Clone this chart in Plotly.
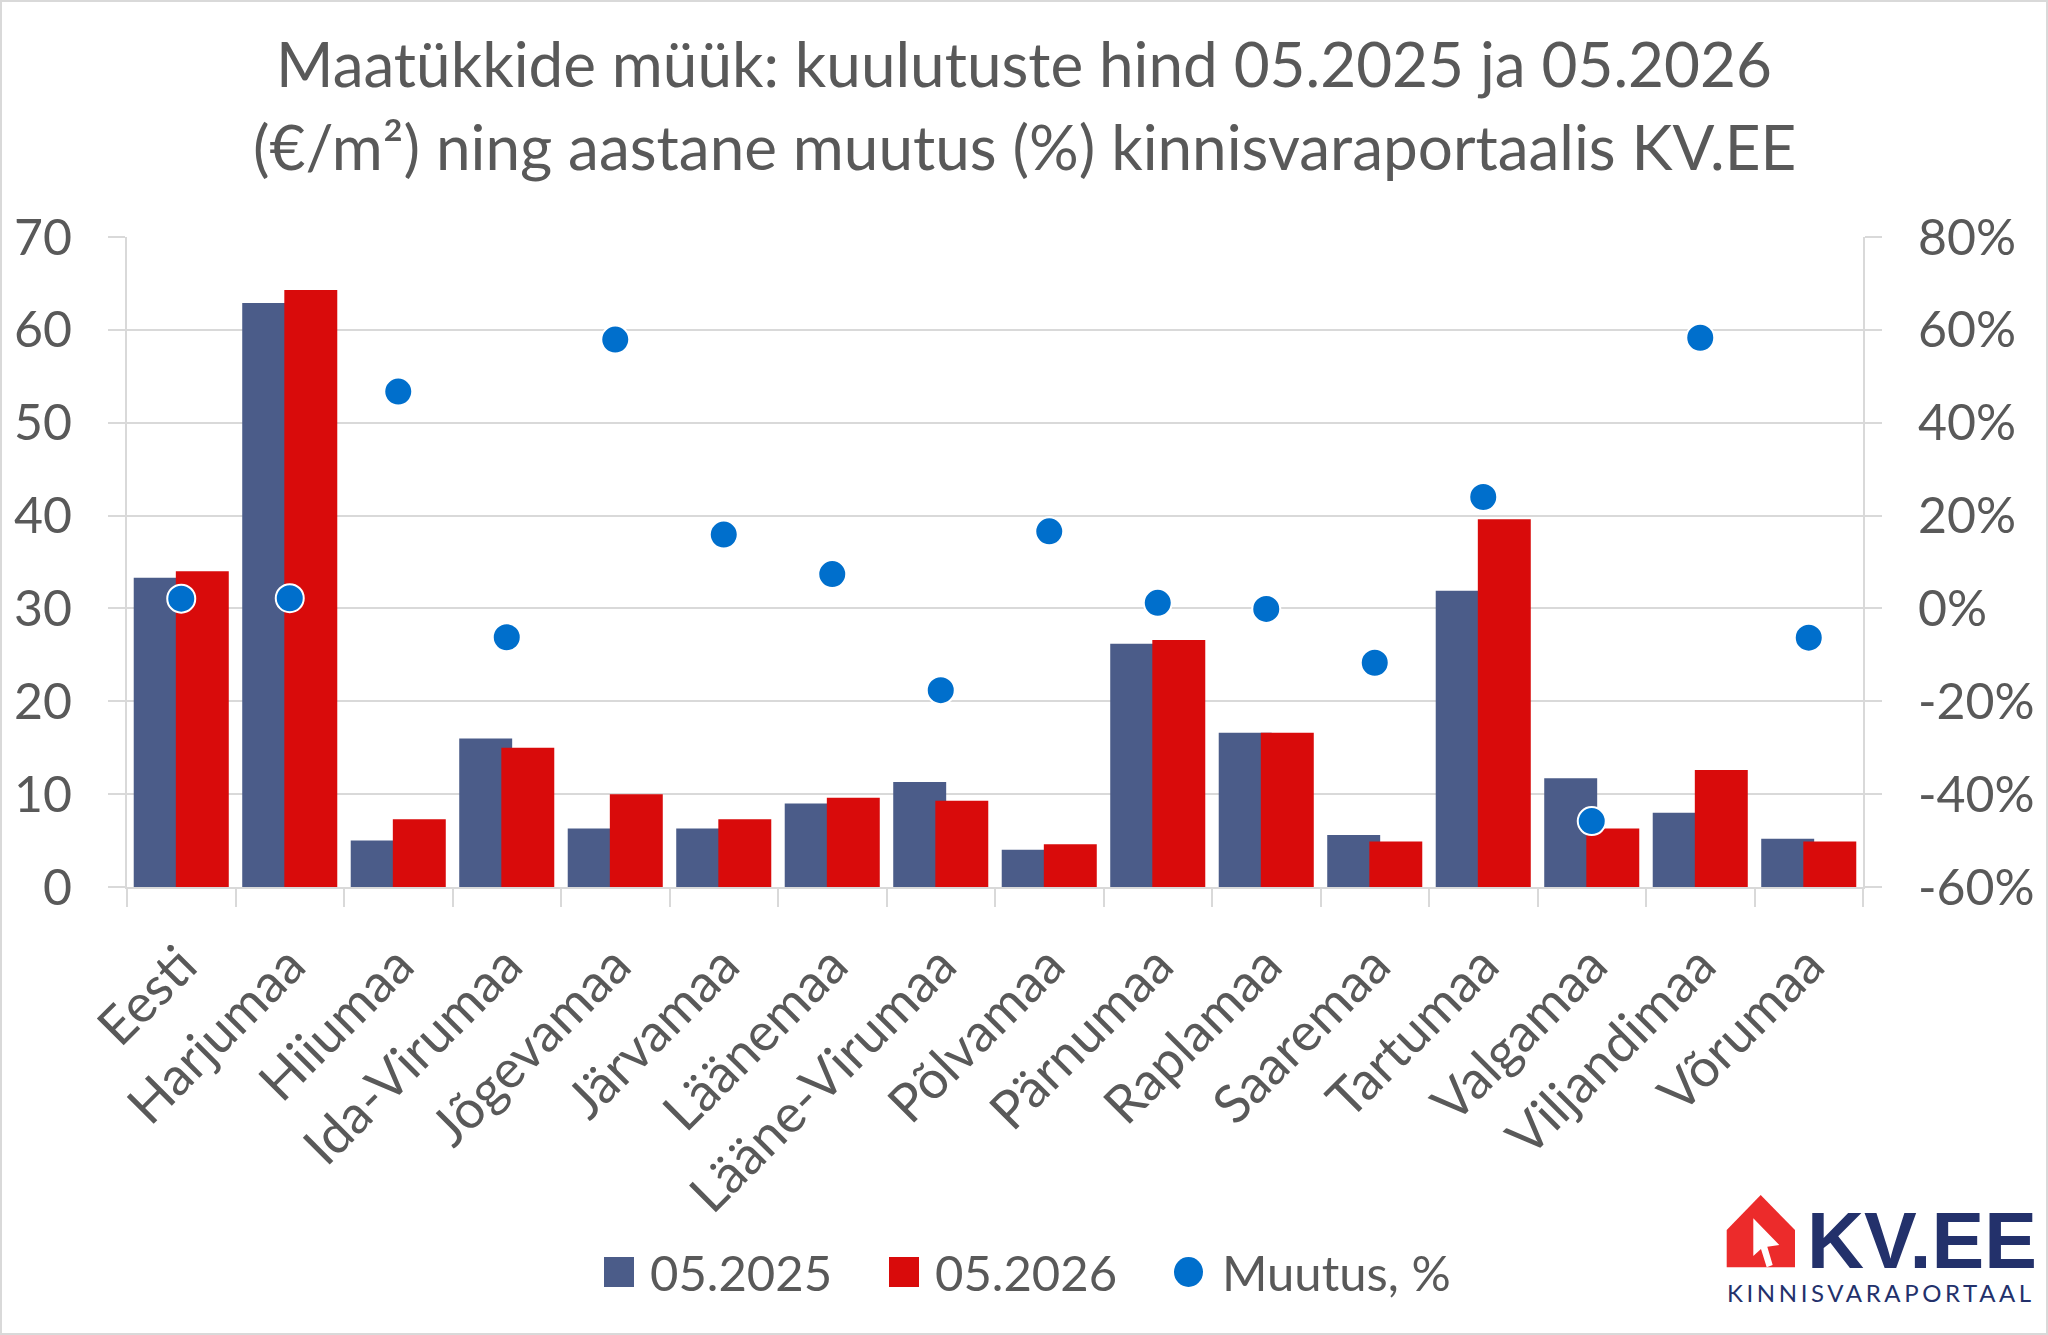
import plotly.graph_objects as go

# ---------------- data ----------------
categories = ["Eesti", "Harjumaa", "Hiiumaa", "Ida-Virumaa", "Jõgevamaa", "Järvamaa",
              "Läänemaa", "Lääne-Virumaa", "Põlvamaa", "Pärnumaa", "Raplamaa",
              "Saaremaa", "Tartumaa", "Valgamaa", "Viljandimaa", "Võrumaa"]
price_2025 = [33.3, 62.9, 5.0, 16.0, 6.3, 6.3, 9.0, 11.3, 4.0, 26.2, 16.6, 5.6, 31.9, 11.7, 8.0, 5.2]
price_2026 = [34.0, 64.3, 7.3, 15.0, 10.0, 7.3, 9.6, 9.3, 4.6, 26.6, 16.6, 4.9, 39.6, 6.3, 12.6, 4.9]
change_pct = [0.021, 0.022, 0.467, -0.062, 0.579, 0.159, 0.074, -0.176, 0.166, 0.012,
              -0.001, -0.117, 0.240, -0.458, 0.583, -0.063]
series_names = ["05.2025", "05.2026", "Muutus, %"]
y_left_ticks = [0, 10, 20, 30, 40, 50, 60, 70]
y_right_ticks = [-0.6, -0.4, -0.2, 0.0, 0.2, 0.4, 0.6, 0.8]
y_right_labels = ["-60%", "-40%", "-20%", "0%", "20%", "40%", "60%", "80%"]
title_lines = ["Maatükkide müük: kuulutuste hind 05.2025 ja 05.2026",
               "(€/m²) ning aastane muutus (%) kinnisvaraportaalis KV.EE"]

# ---------------- style ----------------
C_BLUE = "#4B5C89"
C_RED = "#D90B0B"
C_DOT = "#006FCC"
C_TEXT = "#595959"
C_GRID = "#D9D9D9"
C_NAVY = "#23316B"
C_LOGO_RED = "#EC2B2B"
FONT = "Lato"

W, H = 2048, 1335
L, R, T, B = 127, 1863, 237, 887


def fx(x):
    return (x - L) / (R - L)


def fy(y):
    return (B - y) / (B - T)


fig = go.Figure()
bar_w = 0.488
fig.add_trace(go.Bar(x=categories, y=price_2025, name=series_names[0], marker_color=C_BLUE,
                     marker_line_width=0, width=bar_w, offset=-0.438))
fig.add_trace(go.Bar(x=categories, y=price_2026, name=series_names[1], marker_color=C_RED,
                     marker_line_width=0, width=bar_w, offset=-0.050))
fig.add_trace(go.Scatter(x=categories, y=change_pct, name=series_names[2], mode="markers",
                         yaxis="y2", cliponaxis=False,
                         marker=dict(color=C_DOT, size=28, line=dict(color="white", width=2))))

shapes = []
annotations = []

# outer frame
shapes.append(dict(type="rect", xref="paper", yref="paper", x0=fx(1), x1=fx(W - 1),
                   y0=fy(H - 1), y1=fy(1), line=dict(color=C_GRID, width=2), layer="below"))

# title
for line, yc in zip(title_lines, [63, 146]):
    annotations.append(dict(text=line, xref="paper", yref="paper", x=fx(1024), y=fy(yc),
                            xanchor="center", yanchor="middle", showarrow=False,
                            font=dict(family=FONT, size=62, color=C_TEXT)))

# custom legend
leg_y = 1272
sq = 30
shapes.append(dict(type="rect", xref="paper", yref="paper", x0=fx(604), x1=fx(604 + sq),
                   y0=fy(leg_y + sq / 2), y1=fy(leg_y - sq / 2), fillcolor=C_BLUE, line_width=0))
shapes.append(dict(type="rect", xref="paper", yref="paper", x0=fx(889), x1=fx(889 + sq),
                   y0=fy(leg_y + sq / 2), y1=fy(leg_y - sq / 2), fillcolor=C_RED, line_width=0))
shapes.append(dict(type="circle", xref="paper", yref="paper", x0=fx(1174), x1=fx(1203),
                   y0=fy(leg_y + 15), y1=fy(leg_y - 15), fillcolor=C_DOT, line_width=0))
for name, xl in zip(series_names, [648, 933, 1220]):
    annotations.append(dict(text=name, xref="paper", yref="paper", x=fx(xl), y=fy(leg_y),
                            xanchor="left", yanchor="middle", showarrow=False,
                            font=dict(family=FONT, size=49, color=C_TEXT)))

# logo: house + cursor
def path_px(pts):
    return "M " + " L ".join(f"{fx(x):.5f},{fy(y):.5f}" for x, y in pts) + " Z"


house = [(1726.7, 1230), (1760.7, 1195), (1795, 1230), (1795, 1267.3), (1726.7, 1267.3)]
shapes.append(dict(type="path", xref="paper", yref="paper", path=path_px(house),
                   fillcolor=C_LOGO_RED, line_width=0))
cursor = [(1753.3, 1218.3), (1753.3, 1256), (1761, 1249), (1766.7, 1267.3),
          (1772.7, 1265), (1767.3, 1246.7), (1779.3, 1245)]
shapes.append(dict(type="path", xref="paper", yref="paper", path=path_px(cursor),
                   fillcolor="white", line_width=0))
annotations.append(dict(text="<b>KV.EE</b>", xref="paper", yref="paper", x=fx(1805), y=fy(1240),
                        xanchor="left", yanchor="middle", showarrow=False,
                        font=dict(family="Liberation Sans", size=79, color=C_NAVY)))
annotations.append(dict(text='<span style="letter-spacing:3.6px">KINNISVARAPORTAAL</span>',
                        xref="paper", yref="paper", x=fx(1725), y=fy(1292),
                        xanchor="left", yanchor="middle", showarrow=False,
                        font=dict(family=FONT, size=24, color=C_NAVY)))

fig.update_layout(
    width=W, height=H,
    margin=dict(l=L, r=W - R, t=T, b=H - B),
    paper_bgcolor="white", plot_bgcolor="white",
    barmode="overlay", showlegend=False,
    font=dict(family=FONT, color=C_TEXT),
    shapes=shapes, annotations=annotations,
    xaxis=dict(type="category", range=[-0.5, len(categories) - 0.5], tickson="boundaries",
               ticks="outside", ticklen=18, tickwidth=2, tickcolor=C_GRID,
               showline=True, linecolor=C_GRID, linewidth=2, showgrid=False, automargin=False,
               tickangle=-45, tickfont=dict(family=FONT, size=53, color=C_TEXT),
               ticklabelstandoff=24),
    yaxis=dict(range=[0, 70], tickvals=y_left_ticks, showgrid=True, gridcolor=C_GRID, gridwidth=2,
               ticks="outside", ticklen=17, tickwidth=2, tickcolor=C_GRID, automargin=False,
               showline=True, linecolor=C_GRID, linewidth=2, zeroline=False,
               tickfont=dict(family=FONT, size=50, color=C_TEXT), ticklabelstandoff=26),
    yaxis2=dict(range=[-0.6, 0.8], tickvals=y_right_ticks, ticktext=y_right_labels,
                overlaying="y", side="right", showgrid=False, automargin=False,
                ticks="outside", ticklen=17, tickwidth=2, tickcolor=C_GRID,
                showline=True, linecolor=C_GRID, linewidth=2, zeroline=False,
                tickfont=dict(family=FONT, size=50, color=C_TEXT), ticklabelstandoff=26),
)

fig.write_html("out.html")
